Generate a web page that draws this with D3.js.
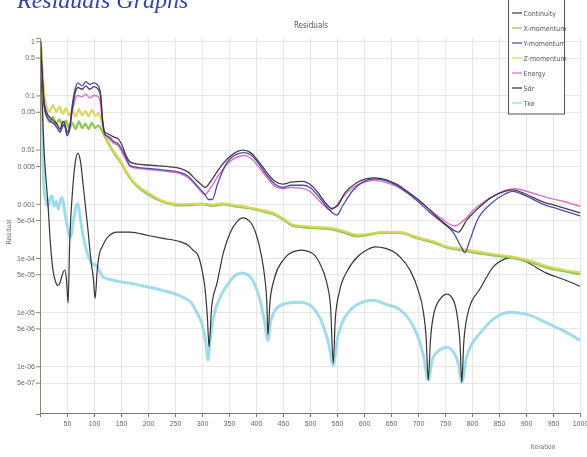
<!DOCTYPE html>
<html>
<head>
<meta charset="utf-8">
<script src="https://cdn.jsdelivr.net/npm/d3@7"></script>
<style>
  body { margin: 0; background: #fff; }
  svg { display: block; filter: blur(0.35px); }
  text { font-family: "Liberation Sans Narrow", "DejaVu Sans Condensed", "Liberation Sans", sans-serif; }
</style>
</head>
<body>
<svg id="chart" width="587" height="457"></svg>
<script>
// ---- Residual histories: [iteration, residual] ----
const continuity = [[1,1],[4,0.25],[8,0.07],[13,0.047],[20,0.038],[27,0.033],[33,0.028],[37,0.024],[43,0.033],[47,0.028],[50,0.021],[54,0.024],[60,0.06],[65,0.11],[70,0.14],[78,0.13],[85,0.15],[92,0.13],[100,0.145],[108,0.13],[112,0.1],[116,0.035],[120,0.021],[128,0.019],[137,0.017],[144,0.016],[152,0.012],[160,0.0075],[168,0.0058],[180,0.0054],[200,0.0052],[220,0.005],[240,0.0048],[259,0.0045],[275,0.0038],[290,0.0027],[300,0.0022],[306,0.002],[315,0.0025],[330,0.0042],[350,0.0072],[365,0.0092],[376,0.0098],[390,0.0088],[405,0.006],[420,0.0038],[435,0.0026],[450,0.0023],[465,0.0025],[487,0.0026],[500,0.0023],[515,0.0016],[530,0.001],[540,0.00082],[550,0.0009],[565,0.0016],[585,0.0024],[605,0.0029],[620,0.003],[640,0.0028],[660,0.0023],[680,0.0017],[700,0.0012],[720,0.0008],[740,0.00052],[760,0.00036],[775,0.0003],[790,0.0005],[810,0.0008],[835,0.0013],[860,0.0017],[875,0.0018],[900,0.0015],[930,0.0011],[960,0.0009],[1000,0.00068]];

const xMomentum = [[1,1],[4,0.3],[8,0.07],[13,0.04],[18,0.032],[24,0.04],[30,0.03],[36,0.036],[42,0.027],[48,0.034],[54,0.025],[60,0.031],[66,0.024],[72,0.033],[78,0.025],[84,0.03],[90,0.024],[96,0.031],[102,0.025],[108,0.028],[113,0.024],[118,0.019],[125,0.014],[132,0.0105],[139,0.0082],[150,0.0057],[161,0.0036],[170,0.0027],[180,0.0021],[200,0.0015],[228,0.00108],[259,0.00094],[280,0.00095],[300,0.00098],[320,0.00092],[339,0.00098],[360,0.0009],[383,0.00084],[410,0.00074],[431,0.00065],[450,0.00052],[469,0.00039],[500,0.00036],[537,0.00034],[560,0.0003],[587,0.00025],[610,0.00027],[630,0.00029],[667,0.00029],[700,0.00023],[730,0.00019],[754,0.000155],[780,0.00014],[815,0.00012],[845,0.00011],[876,0.0001],[910,0.000082],[939,0.000066],[970,0.000057],[1000,0.00005]];

const yMomentum = [[1,1],[4,0.25],[8,0.06],[13,0.04],[20,0.033],[27,0.029],[33,0.024],[37,0.021],[43,0.028],[47,0.025],[50,0.018],[54,0.021],[60,0.07],[65,0.13],[70,0.17],[78,0.15],[85,0.18],[92,0.16],[100,0.17],[108,0.15],[112,0.11],[116,0.032],[120,0.019],[128,0.017],[137,0.014],[144,0.013],[152,0.01],[160,0.0068],[168,0.005],[180,0.0047],[200,0.0045],[220,0.0043],[240,0.0041],[259,0.0038],[275,0.0032],[290,0.0022],[305,0.0015],[312,0.0012],[319,0.0012],[328,0.0022],[345,0.0055],[362,0.008],[378,0.0088],[392,0.0078],[405,0.0055],[420,0.0034],[435,0.0023],[450,0.002],[465,0.0022],[487,0.0022],[500,0.002],[515,0.0014],[530,0.0009],[542,0.00068],[550,0.00062],[560,0.0009],[580,0.0018],[600,0.0026],[620,0.0029],[640,0.0027],[660,0.0022],[680,0.0016],[700,0.0011],[720,0.00072],[745,0.00045],[765,0.0003],[780,0.00016],[787,0.000125],[795,0.0002],[810,0.0005],[835,0.001],[860,0.0015],[875,0.0017],[900,0.0014],[930,0.001],[960,0.0008],[1000,0.0006]];

const zMomentum = [[1,1],[4,0.35],[8,0.1],[13,0.06],[18,0.05],[24,0.066],[30,0.05],[36,0.062],[42,0.046],[48,0.058],[54,0.043],[60,0.052],[66,0.041],[72,0.056],[78,0.043],[84,0.052],[90,0.041],[96,0.054],[102,0.042],[108,0.046],[113,0.036],[118,0.022],[125,0.015],[132,0.011],[139,0.0086],[150,0.006],[161,0.0038],[170,0.0028],[180,0.0022],[200,0.0016],[228,0.00112],[259,0.00098],[280,0.00099],[300,0.00101],[320,0.00096],[339,0.00102],[360,0.00094],[383,0.00088],[410,0.00077],[431,0.00068],[450,0.00054],[469,0.00041],[500,0.00038],[537,0.00036],[560,0.00032],[587,0.00027],[610,0.00028],[630,0.0003],[667,0.0003],[700,0.00024],[730,0.0002],[754,0.000162],[780,0.000148],[815,0.000128],[845,0.000116],[876,0.000105],[910,0.000088],[939,0.00007],[970,0.00006],[1000,0.000054]];

const energy = [[1,1],[4,0.25],[8,0.065],[13,0.042],[20,0.034],[27,0.03],[33,0.025],[37,0.021],[43,0.029],[47,0.026],[50,0.019],[54,0.022],[60,0.05],[65,0.085],[70,0.1],[78,0.095],[85,0.105],[92,0.09],[100,0.1],[108,0.095],[112,0.07],[116,0.03],[120,0.019],[128,0.016],[137,0.013],[144,0.012],[152,0.009],[160,0.0062],[168,0.0048],[180,0.0045],[200,0.0043],[220,0.0041],[240,0.0039],[259,0.0036],[275,0.003],[290,0.0021],[300,0.0016],[306,0.0015],[315,0.0019],[330,0.0033],[350,0.0058],[365,0.0073],[378,0.0078],[390,0.007],[405,0.0048],[420,0.0031],[435,0.0021],[450,0.0019],[465,0.002],[487,0.0019],[500,0.0017],[515,0.0012],[530,0.00085],[537,0.00076],[545,0.00085],[560,0.0013],[580,0.002],[600,0.0025],[620,0.0027],[640,0.0025],[660,0.0021],[680,0.0016],[700,0.0012],[720,0.0008],[745,0.00052],[768,0.00039],[785,0.0005],[805,0.0008],[835,0.0013],[865,0.0018],[880,0.0019],[910,0.0016],[940,0.0013],[970,0.0011],[1000,0.0009]];

const sdr = [[1,1],[4,0.08],[8,0.008],[12,0.0022],[15,0.0009],[19,0.0002],[24,0.00006],[29,0.000036],[33,0.000031],[37,0.000035],[41,0.000048],[46,0.00006],[49,0.00004],[52,0.0000147],[55,0.0002],[60,0.0016],[65,0.0055],[70,0.0086],[75,0.006],[80,0.0022],[88,0.0004],[95,0.00008],[99,0.00004],[102,0.000018],[106,0.00006],[110,0.00012],[115,0.00016],[125,0.00024],[143,0.0003],[167,0.0003],[200,0.00026],[228,0.00023],[259,0.0002],[275,0.00017],[283,0.00014],[291,0.00012],[300,0.00006],[306,0.000025],[310,0.000008],[313,0.0000023],[318,0.000013],[328,0.000035],[340,0.00013],[352,0.00029],[364,0.00046],[376,0.00055],[388,0.00048],[400,0.00028],[410,0.00011],[416,0.000045],[420,0.000015],[422,0.0000038],[426,0.000016],[435,0.000045],[450,0.00009],[467,0.000128],[485,0.00014],[503,0.000125],[518,0.00008],[530,0.000038],[538,0.000013],[543,0.00000115],[547,0.000008],[555,0.000025],[570,0.00006],[590,0.00011],[605,0.00014],[620,0.00016],[640,0.00015],[667,0.000104],[685,0.00006],[700,0.000026],[710,0.00001],[715,0.0000035],[719,0.00000056],[723,0.000003],[730,0.00001],[742,0.000018],[754,0.0000215],[765,0.000017],[773,0.000008],[778,0.0000025],[781,0.00000051],[785,0.000003],[795,0.000012],[815,0.000027],[839,0.000068],[860,0.000095],[876,0.000104],[900,0.000085],[939,0.000052],[970,0.00004],[1000,0.00003]];

const tke = [[1,1],[3,0.1],[6,0.004],[10,0.0012],[15,0.0009],[19,0.0013],[22,0.0014],[26,0.0009],[30,0.0011],[34,0.0008],[38,0.0012],[41,0.0013],[45,0.0008],[50,0.0004],[56,0.00024],[62,0.0005],[67,0.0009],[70,0.001],[74,0.0006],[80,0.00025],[88,0.00012],[96,0.00008],[106,0.00007],[117,0.000044],[130,0.00004],[150,0.000036],[167,0.000034],[200,0.000029],[228,0.000025],[259,0.00002],[280,0.000015],[291,0.0000096],[300,0.000006],[307,0.0000028],[311,0.0000013],[315,0.000003],[322,0.0000085],[335,0.00002],[350,0.000035],[362,0.000048],[374,0.000053],[386,0.000048],[398,0.000032],[408,0.000016],[416,0.0000065],[422,0.000003],[427,0.0000065],[436,0.000011],[450,0.000014],[466,0.000015],[481,0.0000153],[497,0.000014],[512,0.00001],[525,0.0000055],[535,0.0000025],[543,0.00000105],[550,0.000003],[560,0.0000065],[575,0.000011],[595,0.000015],[617,0.0000166],[640,0.000014],[667,0.000011],[685,0.000007],[700,0.0000035],[710,0.0000016],[719,0.00000056],[727,0.0000014],[740,0.000002],[754,0.00000226],[766,0.0000018],[775,0.0000011],[781,0.00000051],[790,0.0000015],[800,0.0000026],[815,0.0000041],[840,0.0000075],[870,0.00001],[900,0.0000092],[939,0.0000063],[970,0.0000045],[1000,0.000003]];

// ---- Axis ticks ----
const iterationTicks = d3.range(50, 1001, 50);
const residualTicks = [1, 0.5, 0.1, 0.05, 0.01, 0.005, 0.001, 5e-4, 1e-4, 5e-5, 1e-5, 5e-6, 1e-6, 5e-7];
const residualTickLabels = ["1", "0.5", "0.1", "0.05", "0.01", "0.005", "0.001", "5e-04", "1e-04", "5e-05", "1e-05", "5e-06", "1e-06", "5e-07"];

const seriesNames = ["Continuity", "X-momentum", "Y-momentum", "Z-momentum", "Energy", "Sdr", "Tke"];
const seriesData = [continuity, xMomentum, yMomentum, zMomentum, energy, sdr, tke];
const seriesColors = ["#3d3346", "#8cc751", "#4b3fa6", "#dcd45a", "#d46cc0", "#2a2a2a", "#8fd6e6"];
const seriesWidths = [1.3, 2.4, 1.3, 2.2, 1.4, 1.2, 3];
const drawOrder = [6, 5, 1, 3, 4, 2, 0];

// ---- Layout ----
const svg = d3.select("#chart");
const plot = { left: 40, right: 582, top: 38, bottom: 413 };

const x = d3.scaleLinear().domain([0, 1000]).range([plot.left, 580]);
const y = d3.scaleLog().domain([Math.pow(10, -6.88), Math.pow(10, 0.06)]).range([plot.bottom + 1, plot.top]);

// page heading (runs off the top edge of the page)
svg.append("text")
  .attr("x", 17).attr("y", 8)
  .attr("font-style", "italic")
  .attr("font-size", 24)
  .attr("fill", "#2f46a8")
  .style("font-family", "'Liberation Serif', serif")
  .text("Residuals Graphs");

// grid
const grid = svg.append("g").attr("stroke", "#e6e6e6").attr("stroke-width", 1);
grid.selectAll("line.v").data(iterationTicks).join("line")
  .attr("x1", d => Math.round(x(d)) + 0.5).attr("x2", d => Math.round(x(d)) + 0.5)
  .attr("y1", plot.top).attr("y2", plot.bottom);
grid.selectAll("line.h").data(residualTicks).join("line")
  .attr("x1", plot.left).attr("x2", plot.right)
  .attr("y1", d => Math.round(y(d)) + 0.5).attr("y2", d => Math.round(y(d)) + 0.5);

// chart title, centred over the plot
svg.append("text")
  .attr("x", (plot.left + plot.right) / 2).attr("y", 28)
  .attr("text-anchor", "middle")
  .attr("font-size", 8)
  .attr("fill", "#555")
  .text("Residuals");

// series lines
svg.append("clipPath").attr("id", "plotClip")
  .append("rect").attr("x", plot.left).attr("y", plot.top - 4)
  .attr("width", plot.right - plot.left + 2).attr("height", plot.bottom - plot.top + 4);

const line = d3.line()
  .x(d => x(d[0]))
  .y(d => y(d[1]))
  .curve(d3.curveMonotoneX);

const lines = svg.append("g").attr("clip-path", "url(#plotClip)");
drawOrder.forEach(i => {
  lines.append("path")
    .datum(seriesData[i])
    .attr("fill", "none")
    .attr("stroke", seriesColors[i])
    .attr("stroke-width", seriesWidths[i])
    .attr("stroke-linejoin", "round")
    .attr("stroke-opacity", i === 6 ? 0.85 : 0.95)
    .attr("d", line);
});

// axes
const minorResidual = [];
for (let e = -7; e <= 0; e++) {
  for (let m = 1; m <= 9; m++) {
    const v = m * Math.pow(10, e);
    if (v >= y.domain()[0] && v <= y.domain()[1]) minorResidual.push(v);
  }
}
const yAxisG = svg.append("g").attr("transform", `translate(${plot.left},0)`);
yAxisG.call(d3.axisLeft(y).tickValues(minorResidual).tickSize(2).tickFormat(""));
yAxisG.call(d3.axisLeft(y).tickValues(residualTicks).tickSize(4).tickPadding(1)
  .tickFormat((d, i) => residualTickLabels[i]));
yAxisG.select(".domain").attr("stroke", "#8a8670");
yAxisG.selectAll("line").attr("stroke", "#8a8670");
yAxisG.selectAll("text").attr("font-size", 7).attr("fill", "#666")
  .style("font-family", "'Liberation Sans Narrow', sans-serif");

const xAxisG = svg.append("g").attr("transform", `translate(0,${plot.bottom})`);
xAxisG.call(d3.axisBottom(x).tickValues(d3.range(10, 1001, 10)).tickSize(2).tickFormat(""));
xAxisG.call(d3.axisBottom(x).tickValues(iterationTicks).tickSize(4).tickPadding(4).tickFormat(d3.format("d")));
xAxisG.select(".domain").attr("stroke", "#777");
xAxisG.selectAll("line").attr("stroke", "#777");
xAxisG.selectAll("text").attr("font-size", 7).attr("fill", "#666")
  .style("font-family", "'Liberation Sans Narrow', sans-serif");

// axis titles
svg.append("text")
  .attr("x", 543).attr("y", 449)
  .attr("text-anchor", "middle")
  .attr("font-size", 6.5).attr("fill", "#666")
  .text("Iteration");
svg.append("text")
  .attr("transform", "translate(11,232) rotate(-90)")
  .attr("text-anchor", "middle")
  .attr("font-size", 6.5).attr("fill", "#666")
  .text("Residual");

// legend
const legend = svg.append("g");
legend.append("rect")
  .attr("x", 508.5).attr("y", -2).attr("width", 56).attr("height", 116)
  .attr("fill", "#fff").attr("stroke", "#555").attr("stroke-width", 1);
seriesNames.forEach((name, i) => {
  const ly = 13 + i * 15;
  legend.append("line")
    .attr("x1", 512).attr("x2", 522).attr("y1", ly).attr("y2", ly)
    .attr("stroke", seriesColors[i]).attr("stroke-width", 1.2);
  legend.append("text")
    .attr("x", 523.5).attr("y", ly + 2.5)
    .attr("font-size", 7).attr("fill", "#555")
    .text(name);
});
</script>
</body>
</html>
